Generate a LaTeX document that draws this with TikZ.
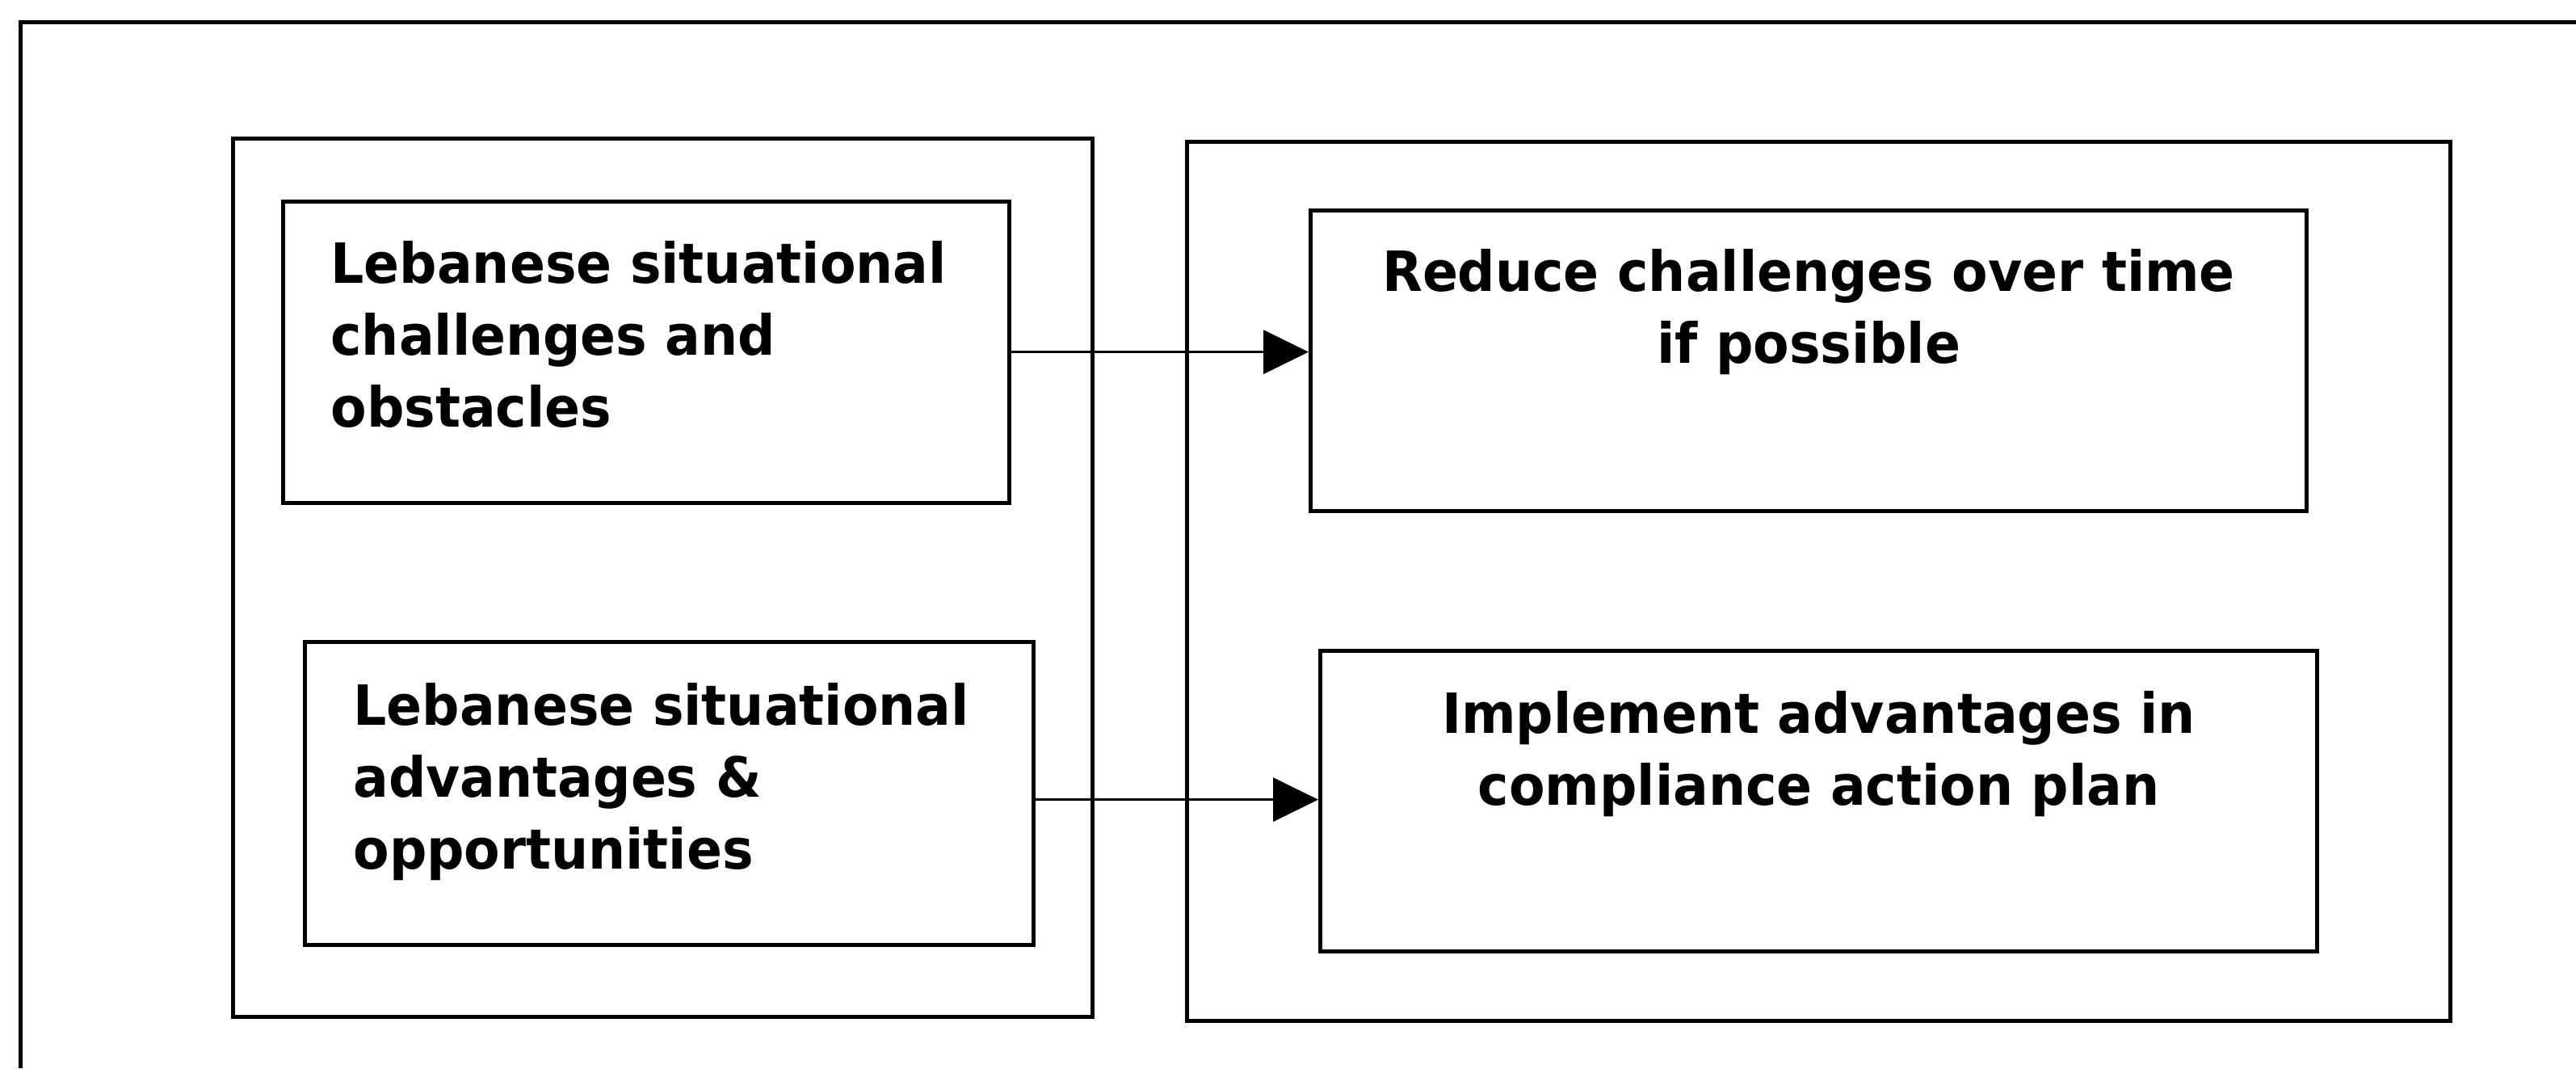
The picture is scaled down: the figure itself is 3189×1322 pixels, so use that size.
\documentclass[tikz,border=0pt]{standalone}
\usepackage{fontspec}
\setmainfont{DejaVu Sans}[FakeStretch=0.945]
\usetikzlibrary{arrows.meta,calc}
\newlength{\pxu}\setlength{\pxu}{0.25pt}
\newcommand{\boxtext}[4]{\parbox[c][#2\pxu][t]{#1\pxu}{\vspace*{#3\pxu}#4}}
\tikzset{
  cont/.style={draw, line width=1.25pt},
  bx/.style={draw, line width=1.25pt, inner sep=0pt, anchor=north west,
    font=\bfseries\fontsize{17.15}{22.25}\selectfont},
  arr/.style={line width=0.9pt, -{Triangle[length=14pt,width=13.5pt]}},
}
\newcommand{\fs}{\rule{0pt}{60\pxu}}
\begin{document}
\begin{tikzpicture}[x=0.25pt,y=-0.25pt]
\useasboundingbox (0,0) rectangle (3189,1322);
% outer frame (only top and left visible)
\draw[line width=1.25pt] (3189,27) -- (25,27) -- (25,1322);
% containers
\draw[cont] (288,171) rectangle (1352,1258);
\draw[cont] (1469,175) rectangle (3033,1263);
% left boxes
\node[bx] (lb1) at (348,247)
  {\boxtext{899}{373}{41}{\raggedright\leftskip=59\pxu\fs Lebanese situational\\challenges and\\obstacles}};
\node[bx] (lb2) at (375,792)
  {\boxtext{902}{375}{43}{\raggedright\leftskip=60\pxu\fs Lebanese situational\\advantages \&\\opportunities}};
% right boxes
\node[bx] (rb1) at (1620,258)
  {\boxtext{1233}{372}{40}{\centering\fs Reduce challenges over time\\if possible}};
\node[bx] (rb2) at (1632,803)
  {\boxtext{1234}{372}{42}{\centering\fs Implement advantages in\\compliance action plan}};
% arrows
\draw[arr] ([yshift=0.1pt]lb1.east) -- ([yshift=0.1pt]lb1.east -| rb1.west);
\draw[arr] ([yshift=-1.9pt]lb2.east) -- ([yshift=-1.9pt]lb2.east -| rb2.west);
\end{tikzpicture}
\end{document}
